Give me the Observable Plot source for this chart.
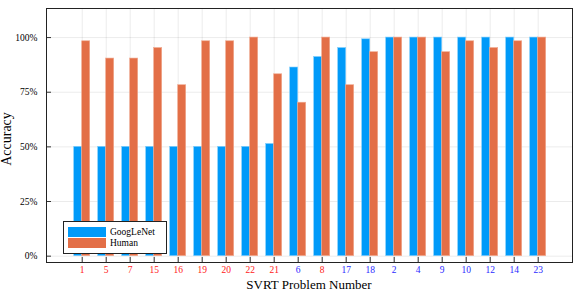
<!DOCTYPE html>
<html>
<head>
<meta charset="utf-8">
<script src="https://cdn.jsdelivr.net/npm/d3@7"></script>
<script src="https://cdn.jsdelivr.net/npm/@observablehq/plot@0.6"></script>
<style>
  html, body { margin: 0; padding: 0; background: #fff; }
  #wrap { position: relative; width: 581px; height: 291px; font-family: "Liberation Serif", serif; overflow: hidden; }
  #legend { position: absolute; left: 63px; top: 221px; width: 102px; height: 31px; border: 1px solid #222; background: #fff; font-size: 9.5px; color: #000; }
  .sw { position: absolute; left: 4px; width: 38px; height: 10px; }
  .lt { position: absolute; left: 46px; line-height: 10px; }
  .xt { position: absolute; left: 46px; width: 526px; top: 278px; text-align: center; font-size: 13px; line-height: 13px; color: #000; white-space: nowrap; }
  .yt { position: absolute; left: 7px; top: 139px; font-size: 14px; line-height: 14px; color: #000; white-space: nowrap; transform: translate(-50%, -50%) rotate(-90deg); }
</style>
</head>
<body>
<div id="wrap"></div>
<script>
const problems = ["1","5","7","15","16","19","20","22","21","6","8","17","18","2","4","9","10","12","14","23"];
const googlenet = [50,50,50,50,50,50,50,50,51.3,86.3,91.1,95.2,99.2,100,100,100,100,100,100,100];
const human = [98.3,90.4,90.4,95.2,78.2,98.3,98.3,100,83.2,70.2,100,78.2,93.3,100,100,93.3,98.3,95.2,98.3,100];
const redProblems = ["1","5","7","15","16","19","20","22","21","8"];
const yTicks = [0,25,50,75,100];
const seriesNames = ["GoogLeNet","Human"];
const seriesColors = ["#009AF9","#E36F47"];
const xTitle = "SVRT Problem Number";
const yTitle = "Accuracy";

const data = problems.map((p, i) => ({problem: p, googlenet: googlenet[i], human: human[i]}));
const redSet = new Set(redProblems);

const W = 581, H = 291, mL = 46, mR = 9, mT = 8, mB = 29;
const innerW = W - mL - mR, innerH = H - mT - mB;

const chart = Plot.plot({
  width: W, height: H,
  marginLeft: mL, marginRight: mR, marginTop: mT, marginBottom: mB,
  style: {fontFamily: "Liberation Serif, serif", background: "#fff"},
  x: {type: "band", domain: problems, paddingInner: 0.333, paddingOuter: 0, range: [73.7, 545.7], round: false},
  y: {domain: [-2.9, 113.3]},
  marks: [
    Plot.gridY(yTicks, {stroke: "#000", strokeOpacity: 0.08, strokeWidth: 1}),
    Plot.gridX(problems, {stroke: "#000", strokeOpacity: 0.08, strokeWidth: 1}),
    Plot.barY(data, {x: "problem", y: "googlenet", fill: seriesColors[0], stroke: "#7fcdfc", strokeWidth: 0.6, insetRight: 8}),
    Plot.barY(data, {x: "problem", y: "human", fill: seriesColors[1], stroke: "#f0a98f", strokeWidth: 0.6, insetLeft: 8}),
    Plot.tickY(yTicks, {y: d => d, stroke: "#333", insetRight: innerW - 5}),
    Plot.tickX(problems, {x: d => d, stroke: "#333", insetTop: innerH - 5}),
    Plot.axisY(yTicks, {tickSize: 0, tickPadding: 9, tickFormat: d => d + "%", fontSize: 9.5, fill: "#000", label: null}),
    Plot.axisX({tickSize: 0, tickPadding: 4, fontSize: 9.5, fill: d => redSet.has(d) ? "#ff2020" : "#2a2aff", label: null}),
    Plot.frame({stroke: "#222", strokeWidth: 1})
  ]
});

const wrap = document.getElementById("wrap");
wrap.appendChild(chart);

const xt = document.createElement("div");
xt.className = "xt"; xt.textContent = xTitle;
wrap.appendChild(xt);
const yt = document.createElement("div");
yt.className = "yt"; yt.textContent = yTitle;
wrap.appendChild(yt);

const legend = document.createElement("div");
legend.id = "legend";
seriesNames.forEach((name, i) => {
  const sw = document.createElement("div");
  sw.className = "sw";
  sw.style.top = (5 + i * 11) + "px";
  sw.style.background = seriesColors[i];
  legend.appendChild(sw);
  const t = document.createElement("div");
  t.className = "lt";
  t.style.top = (5 + i * 11) + "px";
  t.textContent = name;
  legend.appendChild(t);
});
wrap.appendChild(legend);
</script>
</body>
</html>
